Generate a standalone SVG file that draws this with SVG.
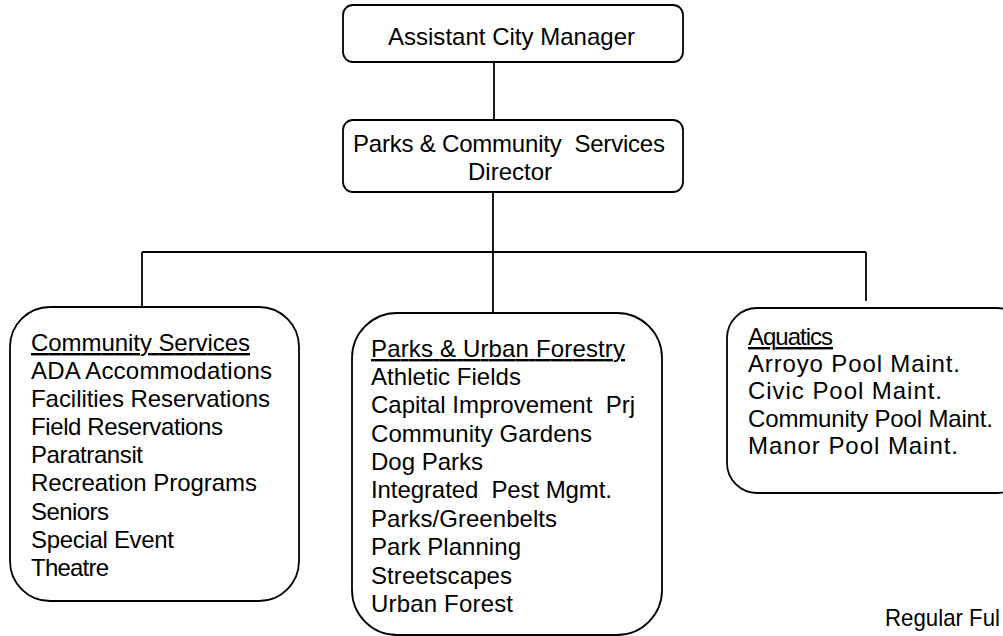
<svg xmlns="http://www.w3.org/2000/svg" width="1003" height="636" viewBox="0 0 1003 636">
  <style>
    .box { fill: #fff; stroke: #000; stroke-width: 1.8; }
    .wire { fill: none; stroke: #000; stroke-width: 1.8; }
    text { font-family: "Liberation Sans", Arial, sans-serif; font-size: 24px; fill: #000; }
    .head { text-decoration: underline; }
  </style>
  <rect width="1003" height="636" fill="#fff"/>

  <!-- reporting lines -->
  <g id="connectors">
    <line class="wire" x1="494" y1="62" x2="494" y2="120"/>
    <line class="wire" x1="493" y1="192" x2="493" y2="313"/>
    <line class="wire" x1="142" y1="252" x2="866" y2="252"/>
    <line class="wire" x1="142" y1="252" x2="142" y2="307"/>
    <line class="wire" x1="866" y1="252" x2="866" y2="301"/>
  </g>

  <g id="assistant-city-manager">
    <rect class="box" x="343" y="5" width="340" height="57" rx="10"/>
    <text x="388" y="45" textLength="247">Assistant City Manager</text>
  </g>

  <g id="director">
    <rect class="box" x="343" y="120" width="340" height="72" rx="10"/>
    <text x="353" y="152" textLength="312" xml:space="preserve">Parks &amp; Community  Services</text>
    <text x="468" y="180" textLength="84">Director</text>
  </g>

  <g id="community-services">
    <rect class="box" x="10" y="307" width="289" height="294" rx="40"/>
    <text class="head" x="31" y="351" textLength="219">Community Services</text>
    <text x="31" y="379" textLength="241">ADA Accommodations</text>
    <text x="31" y="407" textLength="239">Facilities Reservations</text>
    <text x="31" y="435" textLength="192">Field Reservations</text>
    <text x="31" y="463" textLength="112">Paratransit</text>
    <text x="31" y="491" textLength="226">Recreation Programs</text>
    <text x="31" y="520" textLength="78">Seniors</text>
    <text x="31" y="548" textLength="143">Special Event</text>
    <text x="31" y="576" textLength="78">Theatre</text>
  </g>

  <g id="parks-urban-forestry">
    <rect class="box" x="352" y="313" width="310" height="322" rx="45"/>
    <text class="head" x="371" y="357" textLength="254">Parks &amp; Urban Forestry</text>
    <text x="371" y="385" textLength="150">Athletic Fields</text>
    <text x="371" y="413" textLength="264" xml:space="preserve">Capital Improvement  Prj</text>
    <text x="371" y="442" textLength="221">Community Gardens</text>
    <text x="371" y="470" textLength="112">Dog Parks</text>
    <text x="371" y="498" textLength="241" xml:space="preserve">Integrated  Pest Mgmt.</text>
    <text x="371" y="527" textLength="186">Parks/Greenbelts</text>
    <text x="371" y="555" textLength="150">Park Planning</text>
    <text x="371" y="584" textLength="141">Streetscapes</text>
    <text x="371" y="612" textLength="142">Urban Forest</text>
  </g>

  <g id="aquatics">
    <rect class="box" x="727" y="308" width="300" height="185" rx="30"/>
    <text class="head" x="748" y="345" textLength="85">Aquatics</text>
    <text x="748" y="372" textLength="212">Arroyo Pool Maint.</text>
    <text x="748" y="399" textLength="194">Civic Pool Maint.</text>
    <text x="748" y="427" textLength="245">Community Pool Maint.</text>
    <text x="748" y="454" textLength="210">Manor Pool Maint.</text>
  </g>

  <text id="legend" x="885" y="626" textLength="115" lengthAdjust="spacingAndGlyphs">Regular Ful</text>
</svg>
